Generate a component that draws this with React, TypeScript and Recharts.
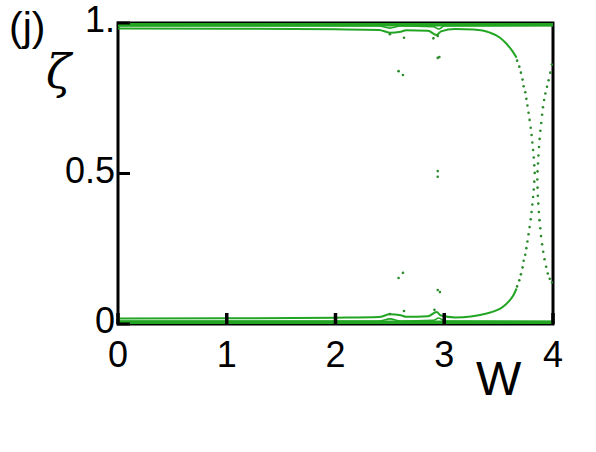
import React from 'react';
import { ComposedChart, Line, Scatter, XAxis, YAxis, ReferenceArea } from 'recharts';

// W tick values and ζ ticks
const xTicks = [0, 1, 2, 3, 4];
const yTicks = [0, 0.5, 1];
const yTickLabels: Record<string, string> = { '0': '0', '0.5': '0.5', '1': '1.' };

// [W, ζ] pairs
const topBand = [[0, 0.995], [4, 0.995]];
const topLine = [[0, 0.99], [2.4, 0.99], [2.5, 0.983], [2.6, 0.99], [2.9, 0.988], [2.95, 0.98], [3.0, 0.99], [4, 0.992]];
const upperMain = [
  [0, 0.982], [1, 0.981], [2, 0.979], [2.4, 0.977], [2.5, 0.968], [2.6, 0.971], [2.65, 0.976],
  [2.85, 0.974], [2.93, 0.96], [2.97, 0.972], [3.1, 0.98], [3.27, 0.978], [3.42, 0.968],
  [3.51, 0.952], [3.57, 0.932], [3.62, 0.91], [3.665, 0.885],
];
const bottomBand = [[0, 0.005], [4, 0.005]];
const bottomLine = [[0, 0.01], [2.4, 0.01], [2.5, 0.017], [2.6, 0.01], [2.9, 0.012], [2.95, 0.02], [3.0, 0.01], [4, 0.008]];
const lowerMain = [
  [0, 0.018], [1, 0.019], [2, 0.021], [2.4, 0.023], [2.5, 0.032], [2.6, 0.029], [2.65, 0.024],
  [2.85, 0.026], [2.93, 0.04], [2.97, 0.028], [3.1, 0.022], [3.39, 0.035], [3.54, 0.057],
  [3.6, 0.078], [3.63, 0.092], [3.665, 0.118],
];

const upperLeftDots = [
  [3.67, 0.875], [3.69, 0.855], [3.705, 0.835], [3.72, 0.812], [3.73, 0.79], [3.745, 0.77],
  [3.755, 0.748], [3.765, 0.726], [3.775, 0.702], [3.785, 0.678], [3.795, 0.652], [3.803, 0.628],
  [3.81, 0.603], [3.817, 0.578], [3.823, 0.553], [3.828, 0.527], [3.832, 0.502],
];
const lowerLeftDots = [
  [3.67, 0.125], [3.69, 0.145], [3.705, 0.165], [3.72, 0.188], [3.73, 0.21], [3.745, 0.23],
  [3.755, 0.252], [3.765, 0.274], [3.775, 0.298], [3.785, 0.322], [3.795, 0.348], [3.803, 0.372],
  [3.81, 0.397], [3.817, 0.422], [3.823, 0.447], [3.828, 0.473],
];
const rightUpperDots = [
  [3.99, 0.862], [3.975, 0.835], [3.96, 0.81], [3.945, 0.788], [3.93, 0.766], [3.918, 0.744],
  [3.908, 0.72], [3.9, 0.695], [3.892, 0.668], [3.884, 0.642], [3.877, 0.615], [3.871, 0.588],
  [3.866, 0.56], [3.862, 0.533], [3.858, 0.507],
];
const rightLowerDots = [
  [3.856, 0.48], [3.858, 0.453], [3.861, 0.426], [3.865, 0.4], [3.87, 0.372], [3.876, 0.345],
  [3.883, 0.318], [3.89, 0.292], [3.9, 0.265], [3.91, 0.24], [3.922, 0.215], [3.937, 0.19],
  [3.952, 0.168], [3.97, 0.15], [3.99, 0.138],
];
const strayDots = [
  [2.5, 0.963], [2.63, 0.951], [2.58, 0.84], [2.62, 0.827], [2.9, 0.949], [2.94, 0.957],
  [2.94, 0.884], [2.955, 0.887], [2.94, 0.508], [2.94, 0.489],
  [2.58, 0.153], [2.62, 0.17], [2.94, 0.113], [2.96, 0.106], [2.91, 0.047], [2.63, 0.043], [2.5, 0.033],
];

const pts = (arr: number[][]) => arr.map(([w, z]) => ({ w, z }));

const GREEN = '#22a522';
const DOT = '#2b8a2b';
const FONT = '"Liberation Sans", Arial, sans-serif';

const XTick = (props: any) => {
  const { x, y, payload } = props;
  return (
    <g>
      <line x1={x} x2={x} y1={y} y2={y - 11} stroke="#000" strokeWidth={3.5} />
      <text x={x} y={y + 43} textAnchor="middle" fontSize={36} fontFamily={FONT} fill="#000">
        {payload.value}
      </text>
    </g>
  );
};

const YTick = (props: any) => {
  const { x, y, payload } = props;
  return (
    <g>
      <line x1={x - 1} x2={x + 12} y1={y} y2={y} stroke="#000" strokeWidth={3} />
      <text x={x - 3} y={y + 9} textAnchor="end" fontSize={36} fontFamily={FONT} fill="#000">
        {yTickLabels[String(payload.value)]}
      </text>
    </g>
  );
};

const smallDot = (props: any) => <circle cx={props.cx} cy={props.cy} r={1.3} fill={DOT} />;

export default function App() {
  const lines: [number[][], number][] = [
    [topBand, 4], [topLine, 1.6], [upperMain, 2],
    [bottomBand, 4], [bottomLine, 1.6], [lowerMain, 2],
  ];
  const dots = [upperLeftDots, lowerLeftDots, rightUpperDots, rightLowerDots, strayDots];
  return (
    <div style={{ position: 'absolute', left: 0, top: 0, width: 596, height: 452, background: '#fff' }}>
      <ComposedChart width={596} height={452} margin={{ top: 23, right: 43, bottom: 88, left: 58 }}>
        <XAxis
          type="number" dataKey="w" domain={[0, 4]} ticks={xTicks} allowDataOverflow
          height={40} tickSize={0} tickMargin={0} tickLine={false} axisLine={false} tick={<XTick />}
        />
        <YAxis
          type="number" dataKey="z" domain={[0, 1]} ticks={yTicks} allowDataOverflow
          width={60} tickSize={0} tickMargin={0} tickLine={false} axisLine={false} tick={<YTick />}
        />
        <ReferenceArea x1={0} x2={4} y1={0} y2={1} fill="none" stroke="#000" strokeWidth={3} ifOverflow="visible" />
        {lines.map(([arr, sw], i) => (
          <Line key={'l' + i} data={pts(arr)} dataKey="z" type="monotone" stroke={GREEN} strokeWidth={sw}
            dot={false} isAnimationActive={false} />
        ))}
        {dots.map((arr, i) => (
          <Scatter key={'s' + i} data={pts(arr)} dataKey="z" shape={smallDot} isAnimationActive={false} />
        ))}
      </ComposedChart>
      <svg width={596} height={452} style={{ position: 'absolute', left: 0, top: 0, pointerEvents: 'none' }}>
        <text x={9} y={41} fontSize={41} fontFamily={FONT} fill="#000">(j)</text>
        <text x={46} y={88} fontSize={46} fontStyle="italic" fontFamily='"DejaVu Serif", "Liberation Serif", serif' fill="#000">ζ</text>
        <text x={476} y={395} fontSize={48} fontFamily={FONT} fill="#000">W</text>
      </svg>
    </div>
  );
}
